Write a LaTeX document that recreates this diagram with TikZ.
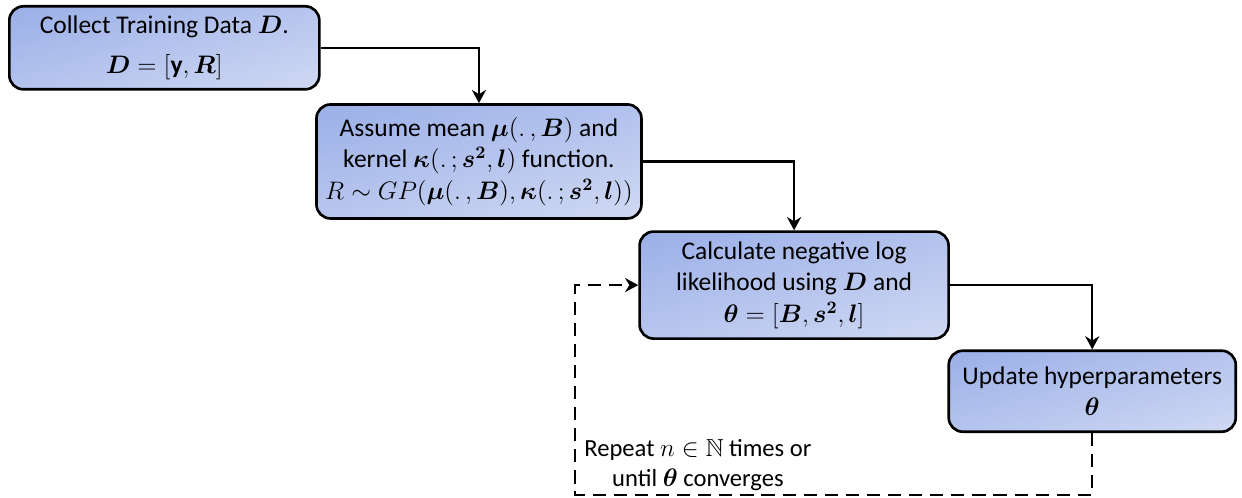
\documentclass[tikz,border=0pt]{standalone}
\usepackage{amsmath}
\usepackage{amssymb}
\usepackage{fontspec}
\setmainfont{Carlito}
\usepackage{tikz}
\usetikzlibrary{arrows.meta, positioning}

\definecolor{boxdark}{RGB}{138,162,228}
\definecolor{boxlight}{RGB}{224,230,247}
\pgfdeclareverticalshading{boxshade}{100bp}{color(0bp)=(boxlight); color(100bp)=(boxdark)}

\begin{document}
\begin{tikzpicture}[
  stepbox/.style={rectangle, draw, line width=1.5pt, rounded corners=8pt, shade, shading=boxshade, shading angle=16, align=center, font=\fontsize{14.5pt}{18pt}\selectfont},
  flow/.style={-{Stealth[length=7.5pt, width=8pt]}, line width=1.3pt},
  note/.style={align=center, inner sep=1pt, font=\fontsize{14pt}{17pt}\selectfont}
]
  \useasboundingbox (0,0) rectangle (24.84,-9.96);

  \node[stepbox, minimum width=6.2cm, minimum height=1.66cm, anchor=north west] (collect) at (0.16,-0.1) {Collect Training Data $\boldsymbol{D}$.\\[5pt] $\boldsymbol{D}=[\mathbf{y},\boldsymbol{R}]$};
  \node[stepbox, minimum width=6.5cm, minimum height=2.28cm, below right=0.25cm and -0.11cm of collect] (assume) {Assume mean $\boldsymbol{\mu}(.\,,\boldsymbol{B})$ and\\ kernel $\boldsymbol{\kappa}(.\,;\boldsymbol{s}^{\boldsymbol{2}},\boldsymbol{l})$ function.\\ $R\sim GP(\boldsymbol{\mu}(.\,,\boldsymbol{B}),\boldsymbol{\kappa}(.\,;\boldsymbol{s}^{\boldsymbol{2}},\boldsymbol{l}))$};
  \node[stepbox, minimum width=6.18cm, minimum height=2.14cm, below right=0.21cm and -0.09cm of assume] (nll) {Calculate negative log\\ likelihood using $\boldsymbol{D}$ and\\ $\boldsymbol{\theta}=[\boldsymbol{B},\boldsymbol{s}^{\boldsymbol{2}},\boldsymbol{l}]$};
  \node[stepbox, minimum width=5.74cm, minimum height=1.62cm, below right=0.19cm and -0.05cm of nll] (update) {Update hyperparameters\\ $\boldsymbol{\theta}$};

  \draw[flow] (collect) -| (assume);
  \draw[flow] (assume) -| (nll);
  \draw[flow] (nll) -| (update);

  \coordinate[below=1.24cm of update.south] (turn);
  \coordinate[left=1.26cm of nll.west] (back);
  \coordinate (corner) at (back |- turn);
  \draw[flow, dash pattern=on 7.5pt off 4.5pt] (update.south) -- (turn) -| (back) -- (nll.west);
  \node[note, above right=0.04cm and 0.14cm of corner] (repeat) {Repeat $n\in\mathbb{N}$ times or\\ until $\boldsymbol{\theta}$ converges};
\end{tikzpicture}
\end{document}
